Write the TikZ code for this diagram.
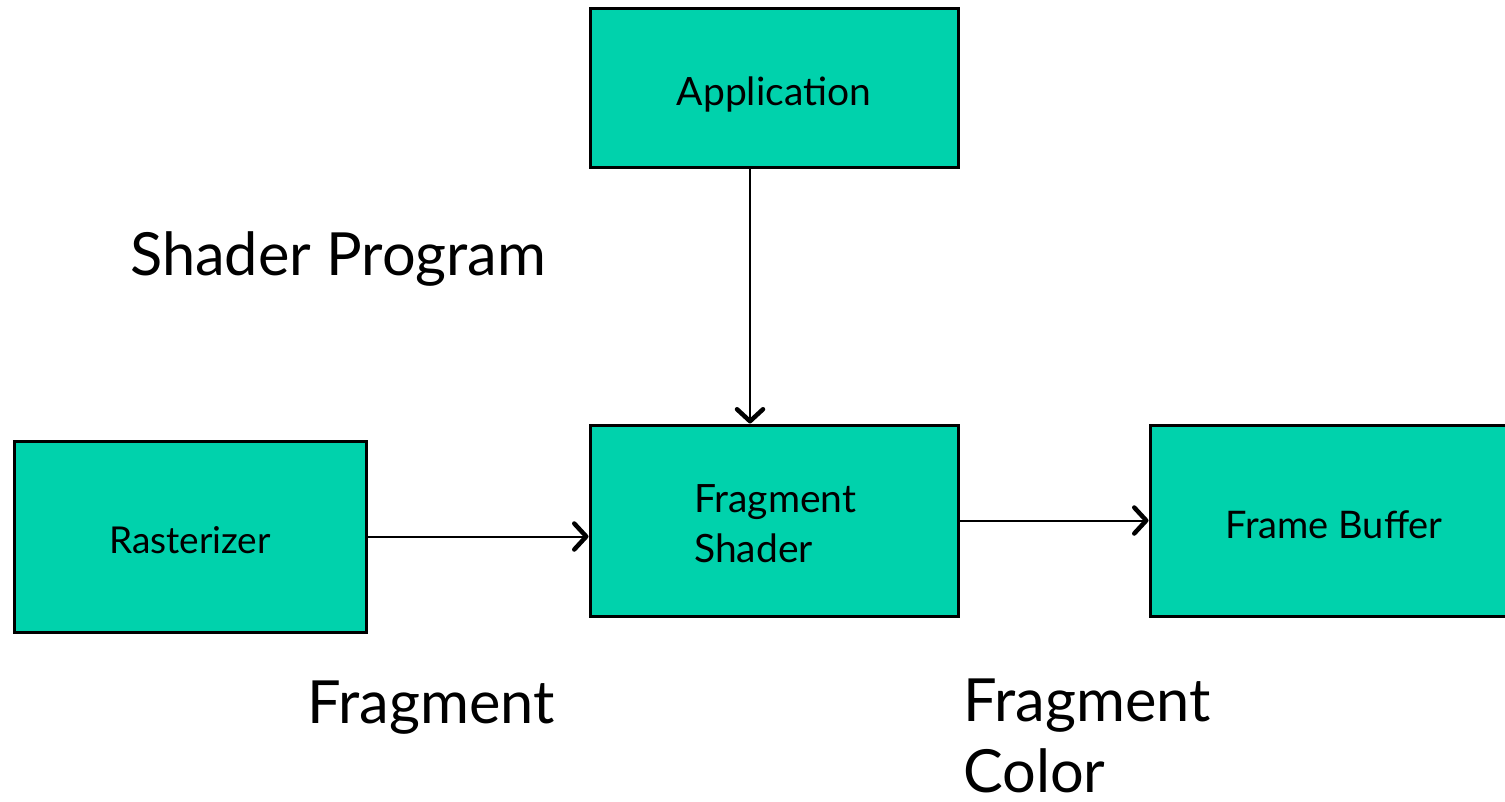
\documentclass[tikz,border=0pt]{standalone}
\usepackage{fontspec}
\setmainfont{Lato}
\usetikzlibrary{arrows.meta}
\definecolor{boxfill}{RGB}{0,210,172}
\tikzset{
  blk/.style={draw=black, line width=3pt, fill=boxfill, rectangle, inner sep=0pt},
  btxt/.style={inner sep=0pt, font=\fontsize{39}{48}\selectfont},
  arr/.style={line width=2pt, -{Straight Barb[length=12pt,width=26pt,line width=4.5pt,round]}},
  lbl/.style={anchor=base west, inner sep=0pt, font=\fontsize{59.5}{73}\selectfont}
}
\begin{document}
\begin{tikzpicture}[x=1pt,y=-1pt]
\useasboundingbox (0,0) rectangle (1505,802);
\clip (0,0) rectangle (1505,802);
\node[blk, minimum width=368pt, minimum height=159pt] (app) at (774,88.5) {};
\node[btxt, anchor=base] (appt) at (774,106) {Application};
\node[blk, minimum width=368pt, minimum height=191pt] (fs) at (774,520.5) {};
\node[btxt, anchor=base west] (fst1) at (694,512) {Fragment};
\node[btxt, anchor=base west] (fst2) at (694,562) {Shader};
\node[blk, minimum width=352pt, minimum height=191pt] (rast) at (190,536.5) {};
\node[btxt, anchor=base, font=\fontsize{37}{44}\selectfont] (rastt) at (190,553) {Rasterizer};
\node[blk, minimum width=364pt, minimum height=191pt] (fb) at (1332,520.5) {};
\node[btxt, anchor=base, font=\fontsize{38}{46}\selectfont] (fbt) at (1334,538) {Frame Buffer};
\draw[arr] ([xshift=-24pt]app.south) -- ([xshift=-24pt]fs.north);
\draw[arr] (rast.east) -- (rast.east -| fs.west);
\draw[arr] (fs.east) -- (fb.west);
\node[lbl] (sp) at (130,276) {Shader Program};
\node[lbl] (frag) at (307,723) {Fragment};
\node[lbl] (fc1) at (963,721) {Fragment};
\node[lbl] (fc2) at (963,792) {Color};
\end{tikzpicture}
\end{document}
